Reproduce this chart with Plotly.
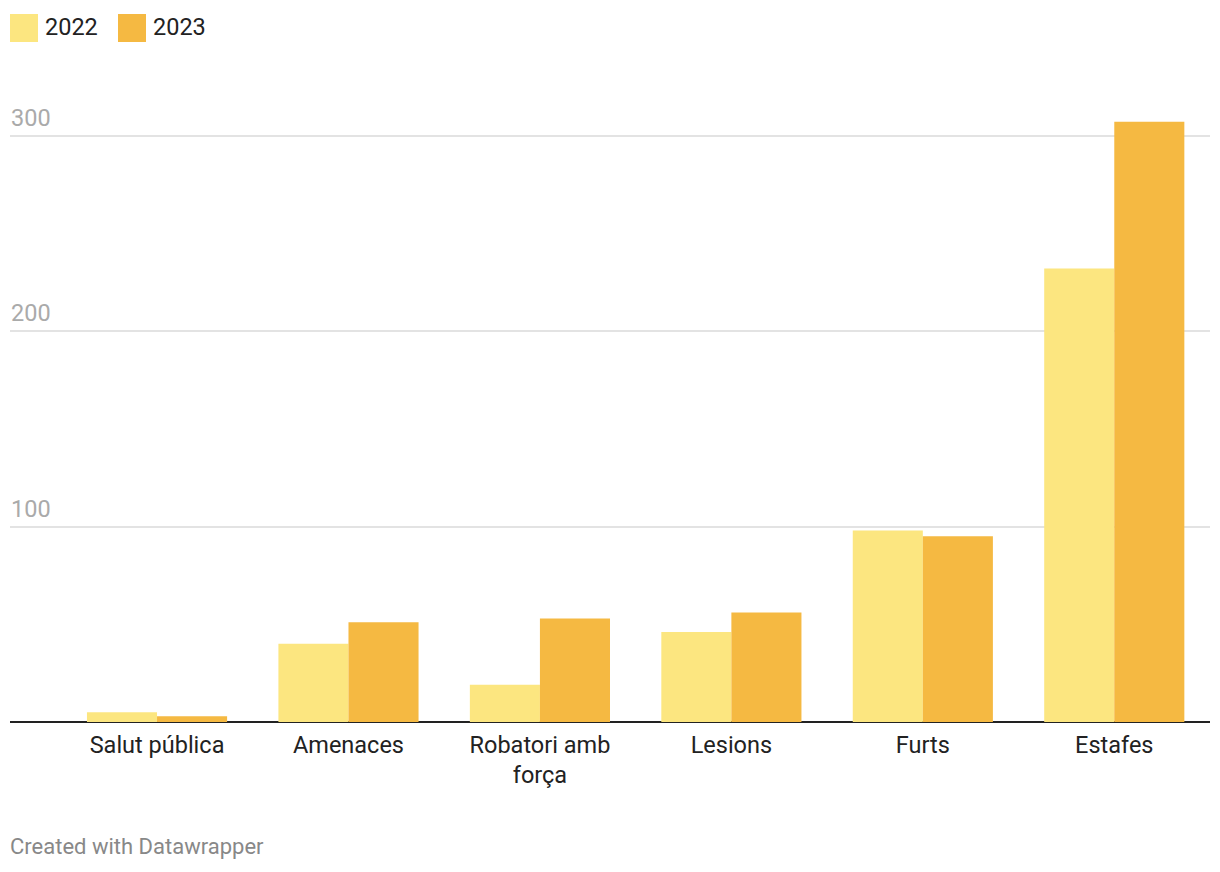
import plotly.graph_objects as go

categories = ["Salut pública", "Amenaces", "Robatori amb<br>força", "Lesions", "Furts", "Estafes"]
values_2022 = [5, 40, 19, 46, 98, 232]
values_2023 = [3, 51, 53, 56, 95, 307]
series_names = ["2022", "2023"]
colors = ["#fce680", "#f5b942"]
y_tickvals = [100, 200, 300]
y_ticktext = ["100", "200", "300"]

FONT = "Roboto"
FS = 23.5

fig = go.Figure()
for name, vals, col in zip(series_names, [values_2022, values_2023], colors):
    fig.add_trace(go.Bar(x=categories, y=vals, name=name, marker=dict(color=col, line=dict(width=0)),
                         showlegend=False, hoverinfo="x+y"))

fig.update_layout(
    width=1220, height=872,
    margin=dict(l=10, r=10, t=116, b=150),
    paper_bgcolor="white", plot_bgcolor="white",
    barmode="group", bargap=0.268, bargroupgap=0,
    font=dict(family=FONT, size=FS, color="#222222"),
    xaxis=dict(range=[-0.768, 5.5], showgrid=False, ticks="", ticklen=0, ticklabelstandoff=6,
               tickfont=dict(family=FONT, size=FS, color="#222222"), showline=False,
               zeroline=False, fixedrange=True),
    yaxis=dict(range=[0, 310], tickvals=y_tickvals, showticklabels=False, showgrid=True,
               gridcolor="#e3e3e3", gridwidth=1.5, zeroline=True, zerolinecolor="#222222",
               zerolinewidth=2, showline=False, fixedrange=True),
)

for v, t in zip(y_tickvals, y_ticktext):
    fig.add_annotation(x=0, xref="paper", y=v, yref="y", text=t, showarrow=False,
                       xanchor="left", yanchor="bottom", yshift=2, xshift=-1,
                       font=dict(family=FONT, size=FS, color="#aaaaaa"))

# legend
leg_x = [10, 118]
for i, (name, col) in enumerate(zip(series_names, colors)):
    x0 = leg_x[i]
    fig.add_shape(type="rect", xref="paper", yref="paper",
                  x0=(x0 - 10) / 1200, x1=(x0 + 18) / 1200,
                  y0=(722 - 42) / 606, y1=(722 - 14) / 606,
                  line=dict(width=0), fillcolor=col)
    fig.add_annotation(xref="paper", yref="paper", x=(x0 + 23) / 1200, y=(722 - 27) / 606,
                       text=name, showarrow=False, xanchor="left", yanchor="middle",
                       font=dict(family=FONT, size=FS, color="#222222"))

fig.add_annotation(xref="paper", yref="paper", x=0, y=(722 - 846) / 606, text="Created with Datawrapper",
                   showarrow=False, xanchor="left", yanchor="middle", xshift=-2,
                   font=dict(family=FONT, size=22, color="#888888"))

fig.write_html("out.html")
